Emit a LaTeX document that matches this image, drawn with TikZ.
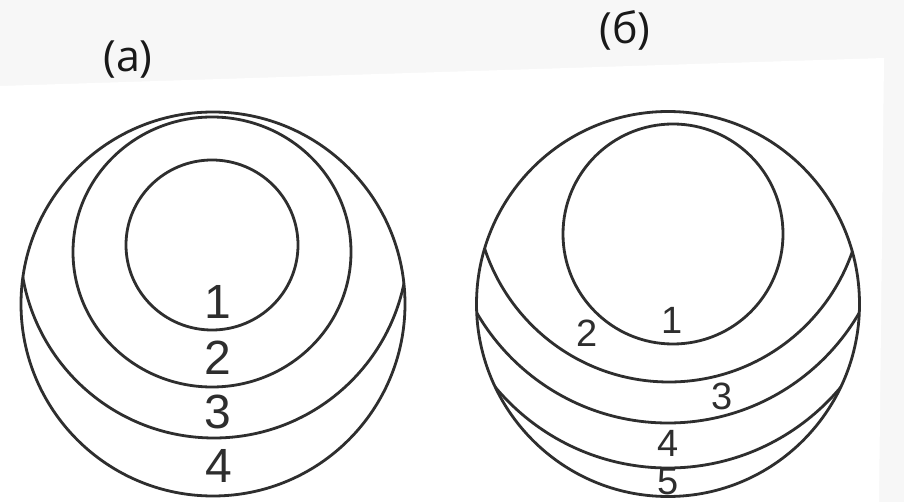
\documentclass[tikz,border=0pt]{standalone}
\usepackage{fontspec}
\setmainfont{Liberation Sans}
\newfontfamily\labelfont{Open Sans}
\definecolor{ink}{HTML}{2E2E2E}
\definecolor{pagegray}{HTML}{F7F7F7}
\begin{document}
\begin{tikzpicture}[x=1pt,y=-1pt,
  ring/.style={draw=ink,line width=2.8pt},
  bigdigit/.style={text=ink,font=\fontsize{48}{48}\selectfont,inner sep=0pt},
  smalldigit/.style={text=ink,font=\fontsize{38}{38}\selectfont,inner sep=0pt},
  partlabel/.style={text=black!90,font=\labelfont\fontsize{43}{43}\selectfont,inner sep=0pt}]
\useasboundingbox (0,0) rectangle (904,502);
% page background
\fill[pagegray] (0,0) rectangle (904,502);
\fill[white] (0,86) -- (884,58) -- (879,502) -- (0,502) -- cycle;
% ---------- figure (a) ----------
\begin{scope}
  \clip (213,304) circle [radius=192pt];
  \draw[ring] (214,244) circle [radius=194pt];
\end{scope}
\draw[ring] (213,304) circle [radius=192pt];
\draw[ring] (212,252) ellipse [x radius=139pt, y radius=135pt];
\draw[ring] (212,245) ellipse [x radius=86pt, y radius=85pt];
\node[bigdigit] (a1) at (218,302) {1};
\node[bigdigit] (a2) at (218,358) {2};
\node[bigdigit] (a3) at (218,412) {3};
\node[bigdigit] (a4) at (219,466) {4};
\node[partlabel] (la) at (128,60) {(a)};
% ---------- figure (b) ----------
\begin{scope}
  \clip (668,304) circle [radius=192pt];
  \draw[ring] (669,188) circle [radius=194pt];
  \draw[ring] (668,202) circle [radius=221pt];
  \draw[ring] (668,243) circle [radius=225pt];
\end{scope}
\draw[ring] (668,304) ellipse [x radius=191.5pt, y radius=192.5pt];
\draw[ring] (673,234) circle [radius=110pt];
\node[smalldigit] (b1) at (672,320) {1};
\node[smalldigit] (b2) at (587,333) {2};
\node[smalldigit] (b3) at (722,396) {3};
\node[smalldigit] (b4) at (668,443) {4};
\node[smalldigit] (b5) at (668,482) {5};
\node[partlabel] (lb) at (625,30) {(б)};
\end{tikzpicture}
\end{document}
